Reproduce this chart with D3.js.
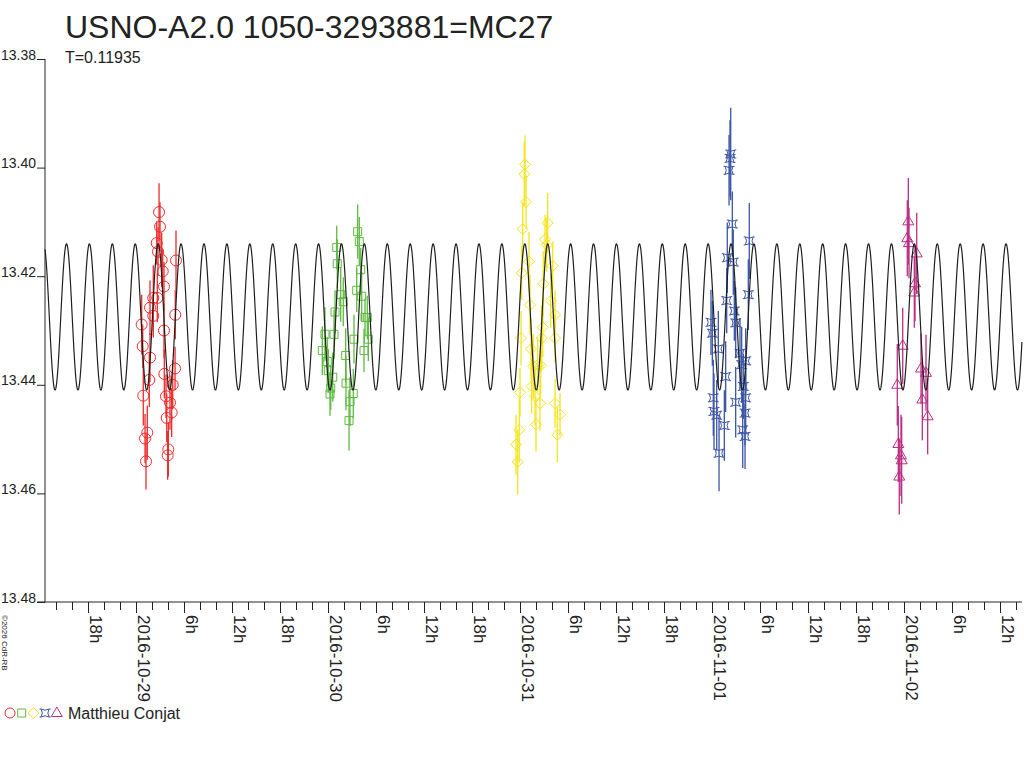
<!DOCTYPE html>
<html>
<head>
<meta charset="utf-8">
<script src="https://cdn.jsdelivr.net/npm/d3@7"></script>
<style>
  body { margin: 0; background: #fff; }
  text { font-family: "Liberation Sans", Arial, sans-serif; fill: #222; }
</style>
</head>
<body>
<div class="d3-content"></div>
<script>
const SVG_WIDTH = 1024;
const SVG_HEIGHT = 768;
const PLOT = { left: 45, right: 1022, top: 59, bottom: 602 };

// light curve model (period given on the chart)
const PERIOD_DAYS = 0.11935;
const CURVE_MEAN = 13.4275;
const CURVE_AMP = 0.01345;
const CURVE_EPOCH = Date.UTC(2016, 9, 28, 15, 18, 45);

const Y_TICKS = [13.38, 13.40, 13.42, 13.44, 13.46, 13.48];

// observing nights (hours are counted from midnight UT of that date)
const nights = ['2016-10-29', '2016-10-30', '2016-10-31', '2016-11-01', '2016-11-02'];
const colors = ['#ee2b2b', '#5dbb3f', '#f4e51c', '#3b55a6', '#bb2f83'];
const symbols = ['circle', 'square', 'diamond', 'star4', 'triangle'];

const redHours = [2.88, 3.0, 2.59, 2.75, 3.21, 5.0, 3.34, 3.5, 2.16, 2.66, 1.75, 2.16, 4.91, 0.71, 3.5, 0.84,
                  1.75, 1.66, 3.54, 4.88, 4.59, 0.91, 3.75, 4.25, 3.84, 4.46, 1.41, 1.13, 4.04, 3.96, 1.25];
const redMags = [13.4082, 13.4109, 13.4139, 13.4155, 13.4170, 13.4171, 13.4191, 13.4219, 13.4240, 13.4240, 13.4258,
                 13.4273, 13.4271, 13.4289, 13.4300, 13.4329, 13.4350, 13.4391, 13.4380, 13.4370, 13.4400, 13.4420,
                 13.4421, 13.4433, 13.4461, 13.4451, 13.4488, 13.4499, 13.4519, 13.4530, 13.4541];
const redErrs = [0.0053, 0.0045, 0.0040, 0.0045, 0.0050, 0.0055, 0.0040, 0.0045, 0.0060, 0.0045, 0.0050, 0.0040,
                 0.0045, 0.0055, 0.0050, 0.0040, 0.0045, 0.0050, 0.0045, 0.0040, 0.0045, 0.0055, 0.0040, 0.0050,
                 0.0045, 0.0045, 0.0050, 0.0045, 0.0050, 0.0045, 0.0052];

const greenHours = [3.71, 3.91, 1.09, 1.16, 4.09, 3.59, 4.21, 1.59, 1.91, 0.88, 4.63, 4.91, -0.38, 0.75, 3.25, 5.04,
                    -0.71, 4.5, 2.21, -0.09, 0.04, 0.59, 2.25, 0.34, 3.16, 0.25, 2.75, 2.63];
const greenMags = [13.4118, 13.4136, 13.4147, 13.4177, 13.4188, 13.4226, 13.4237, 13.4234, 13.4247, 13.4266, 13.4276,
                   13.4276, 13.4307, 13.4307, 13.4316, 13.4316, 13.4337, 13.4337, 13.4346, 13.4357, 13.4374, 13.4386,
                   13.4397, 13.4406, 13.4416, 13.4417, 13.4431, 13.4466];
const greenErrs = [0.0050, 0.0045, 0.0040, 0.0045, 0.0040, 0.0040, 0.0045, 0.0050, 0.0045, 0.0040, 0.0035, 0.0040,
                   0.0050, 0.0045, 0.0045, 0.0040, 0.0045, 0.0040, 0.0050, 0.0045, 0.0040, 0.0045, 0.0050, 0.0040,
                   0.0045, 0.0040, 0.0045, 0.0055];

const yellowHours = [0.63, 0.54, 0.75, 3.46, 0.34, 3.13, 3.34, 1.13, 4.09, 0.21, 2.91, 1.25, 3.84, 4.38, 2.84, 0.13,
                     2.71, 4.38, 1.38, 2.21, 1.66, 2.59, 1.46, 0.0, 1.88, 2.5, 4.38, 5.0, 2.0, -0.09, 4.66, -0.5, -0.29];
const yellowMags = [13.3994, 13.4012, 13.4063, 13.4102, 13.4113, 13.4132, 13.4142, 13.4173, 13.4181, 13.4194, 13.4214,
                    13.4253, 13.4245, 13.4271, 13.4294, 13.4314, 13.4314, 13.4314, 13.4334, 13.4363, 13.4366, 13.4364,
                    13.4403, 13.4414, 13.4421, 13.4434, 13.4434, 13.4455, 13.4473, 13.4483, 13.4492, 13.4510, 13.4542];
const yellowErrs = [0.0053, 0.0060, 0.0050, 0.0055, 0.0050, 0.0045, 0.0050, 0.0055, 0.0045, 0.0050, 0.0060, 0.0055,
                    0.0050, 0.0045, 0.0055, 0.0050, 0.0060, 0.0045, 0.0055, 0.0050, 0.0060, 0.0055, 0.0050, 0.0045,
                    0.0055, 0.0050, 0.0045, 0.0040, 0.0050, 0.0060, 0.0050, 0.0055, 0.0060];

const blueHours = [2.34, 2.25, 2.13, 2.54, 4.66, 1.91, 2.66, 4.54, 1.84, 2.79, -0.13, 2.96, 0.04, 0.79, 3.5, 4.21,
                   3.71, 1.71, 3.91, 0.16, 4.21, 2.96, 0.25, 0.59, 4.13, 1.54, 3.84, 4.13, 0.88];
const blueMags = [13.3975, 13.3983, 13.4005, 13.4104, 13.4135, 13.4166, 13.4174, 13.4234, 13.4245, 13.4264, 13.4285,
                  13.4286, 13.4305, 13.4334, 13.4342, 13.4356, 13.4363, 13.4385, 13.4403, 13.4424, 13.4424, 13.4432,
                  13.4449, 13.4456, 13.4452, 13.4475, 13.4483, 13.4495, 13.4526];
const blueErrs = [0.0085, 0.0070, 0.0065, 0.0060, 0.0070, 0.0065, 0.0060, 0.0065, 0.0060, 0.0055, 0.0060, 0.0065,
                  0.0060, 0.0070, 0.0065, 0.0060, 0.0070, 0.0065, 0.0060, 0.0070, 0.0060, 0.0065, 0.0070, 0.0065,
                  0.0060, 0.0065, 0.0070, 0.0060, 0.0070];

const magentaHours = [0.54, 0.41, 0.63, 1.59, 1.38, 1.29, -0.16, -0.84, 2.13, 2.75, 2.29, 2.96, -0.71, -0.38, -0.29, -0.59];
const magentaMags = [13.4099, 13.4130, 13.4139, 13.4158, 13.4213, 13.4230, 13.4328, 13.4400, 13.4370, 13.4378,
                     13.4427, 13.4458, 13.4509, 13.4530, 13.4539, 13.4569];
const magentaErrs = [0.0080, 0.0070, 0.0065, 0.0075, 0.0070, 0.0065, 0.0070, 0.0075, 0.0065, 0.0070, 0.0075, 0.0070,
                     0.0070, 0.0075, 0.0080, 0.0070];

const sessionHours = [redHours, greenHours, yellowHours, blueHours, magentaHours];
const sessionMags = [redMags, greenMags, yellowMags, blueMags, magentaMags];
const sessionErrs = [redErrs, greenErrs, yellowErrs, blueErrs, magentaErrs];

const observer = 'Matthieu Conjat';
const title = 'USNO-A2.0 1050-3293881=MC27';
const subtitle = 'T=' + PERIOD_DAYS;

const HOUR = 3600 * 1000;
const parseDay = d3.utcParse('%Y-%m-%d');

const svg = d3.select('.d3-content')
              .append('svg')
              .attr('width', SVG_WIDTH)
              .attr('height', SVG_HEIGHT);

const xscale = d3.scaleUtc()
  .domain([new Date(Date.UTC(2016, 9, 28, 12, 37, 30)), new Date(Date.UTC(2016, 10, 2, 14, 45))])
  .range([PLOT.left, PLOT.right]);

const yscale = d3.scaleLinear()
  .domain([13.38, 13.48])
  .range([PLOT.top, PLOT.bottom]);

// title
svg.append('text')
   .text(title)
   .attr('x', 65).attr('y', 38)
   .style('font-size', '32px');

svg.append('text')
   .text(subtitle)
   .attr('x', 65).attr('y', 63)
   .style('font-size', '16px');

// y axis
const yAxis = svg.append('g')
  .attr('transform', `translate(${PLOT.left}, 0)`)
  .call(d3.axisLeft(yscale).tickValues(Y_TICKS).tickSize(8).tickPadding(1).tickFormat(d3.format('.2f')));
yAxis.select('.domain').attr('stroke', '#222').attr('d', `M0,${PLOT.top}V${PLOT.bottom}`);
yAxis.selectAll('.tick line').attr('stroke', '#222');
yAxis.selectAll('.tick text')
     .attr('dy', 0)
     .style('font-size', '14px')
     .style('font-family', '"Liberation Sans", Arial, sans-serif')
     .attr('fill', '#222');

// x axis: minor ticks every 2 h, labelled ticks every 6 h
const xMinor = svg.append('g')
  .attr('transform', `translate(0, ${PLOT.bottom})`)
  .call(d3.axisBottom(xscale).ticks(d3.utcHour.every(2)).tickSize(8).tickFormat(''));
xMinor.select('.domain').attr('stroke', '#222').attr('d', `M${PLOT.left - 8},0H${PLOT.right}`);
xMinor.selectAll('.tick line').attr('stroke', '#222');

const hourFormat = d => d.getUTCHours() === 0 ? d3.utcFormat('%Y-%m-%d')(d) : d.getUTCHours() + 'h';
const xMajor = svg.append('g')
  .attr('transform', `translate(0, ${PLOT.bottom})`)
  .call(d3.axisBottom(xscale).ticks(d3.utcHour.every(6)).tickSize(11).tickFormat(hourFormat));
xMajor.select('.domain').remove();
xMajor.selectAll('.tick line').attr('stroke', '#222');
xMajor.selectAll('.tick text')
      .attr('transform', 'rotate(90)')
      .attr('x', 13).attr('y', -1).attr('dy', 0)
      .attr('text-anchor', 'start')
      .style('font-size', '17px')
      .style('font-family', '"Liberation Sans", Arial, sans-serif')
      .attr('fill', '#222');

// copyright note
svg.append('text')
   .text('©2026 CdR-RB')
   .attr('transform', 'translate(2, 615) rotate(90)')
   .style('font-size', '8px');

// symbol paths
function symbolPath(kind) {
  switch (kind) {
    case 'square': return 'M-4,-4H4V4H-4Z';
    case 'diamond': return 'M0,-5.5L5.5,0L0,5.5L-5.5,0Z';
    case 'triangle': return 'M0,-6L5.5,3.5H-5.5Z';
    case 'star4': return 'M-4,-4Q0,-1.5 4,-4Q1.5,0 4,4Q0,1.5 -4,4Q-1.5,0 -4,-4ZM-4,-4h-1.5M4,-4h1.5M-4,4h-1.5M4,4h1.5';
    default: return null;
  }
}

// observations with error bars
nights.forEach((night, i) => {
  const base = parseDay(night).getTime();
  const points = sessionHours[i].map((h, j) => ({
    date: new Date(base + h * HOUR),
    mag: sessionMags[i][j],
    err: sessionErrs[i][j],
  }));
  const g = svg.append('g').attr('stroke', colors[i]).attr('fill', 'none');

  g.selectAll('line')
   .data(points)
   .join('line')
   .attr('x1', d => xscale(d.date)).attr('x2', d => xscale(d.date))
   .attr('y1', d => yscale(d.mag - d.err)).attr('y2', d => yscale(d.mag + d.err))
   .attr('stroke-width', 1.3);

  if (symbols[i] === 'circle') {
    g.selectAll('circle')
     .data(points)
     .join('circle')
     .attr('cx', d => xscale(d.date)).attr('cy', d => yscale(d.mag))
     .attr('r', 5.5).attr('stroke-width', 1);
  } else {
    g.selectAll('path')
     .data(points)
     .join('path')
     .attr('transform', d => `translate(${xscale(d.date)}, ${yscale(d.mag)})`)
     .attr('d', symbolPath(symbols[i]))
     .attr('stroke-width', 1);
  }
});

// model curve
const [t0, t1] = xscale.domain().map(d => d.getTime());
const curveTimes = d3.range(t0, t1 + 1, 60 * 1000);
const generator = d3.line()
  .x(t => xscale(new Date(t)))
  .y(t => yscale(CURVE_MEAN - CURVE_AMP * Math.cos(2 * Math.PI * (t - CURVE_EPOCH) / (PERIOD_DAYS * 24 * HOUR))));

svg.append('path')
   .datum(curveTimes)
   .attr('d', generator)
   .attr('fill', 'none')
   .attr('stroke', '#1e1e1e')
   .attr('stroke-width', 1.2);

// legend
const legend = svg.append('g').attr('transform', 'translate(0, 713)');
symbols.forEach((s, i) => {
  const x = 10 + i * 11.7;
  if (s === 'circle') {
    legend.append('circle').attr('cx', x).attr('cy', 0).attr('r', 5)
          .attr('fill', 'none').attr('stroke', colors[i]);
  } else {
    legend.append('path').attr('transform', `translate(${x}, 0)`)
          .attr('d', symbolPath(s)).attr('fill', 'none').attr('stroke', colors[i]);
  }
});
legend.append('text')
      .text(observer)
      .attr('x', 68).attr('y', 6)
      .style('font-size', '16px');
</script>
</body>
</html>
